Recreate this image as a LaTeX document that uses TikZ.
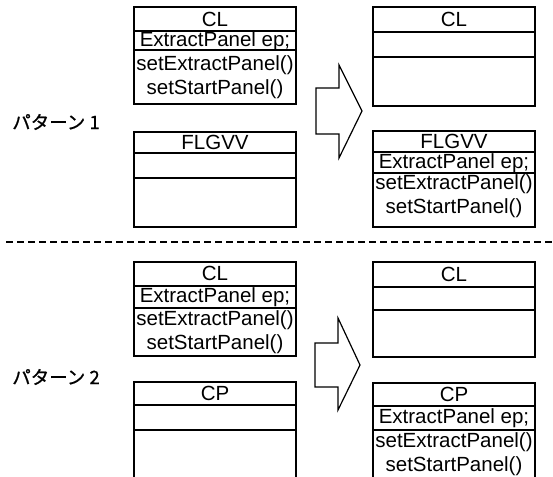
\documentclass[tikz,border=0pt]{standalone}
\usepackage{fontspec}
\setmainfont{Liberation Sans}
\newfontfamily\cjk[FakeBold=0.8]{Noto Sans CJK JP}
\begin{document}
\begin{tikzpicture}[x=1pt,y=-1pt,
    box/.style={line width=1.3pt},
    txt/.style={font=\fontsize{20.5}{24}\selectfont, inner sep=0pt},
    pat/.style={font=\cjk\fontsize{18.5}{22}\selectfont, inner sep=0pt},
    bigarrow/.style={line width=1.2pt, line join=miter}]
  \useasboundingbox (0,0) rectangle (553,476);
  \clip (0,0) rectangle (553,476);

  \def\xl{134} % left column
  \def\xr{373} % right column
  \def\w{162}  % box width
  \def\cl{215} % center left
  \def\cr{454} % center right

  % ---------------- pattern 1 ----------------
  \node[pat] (p1) at (56,122) {パターン 1};

  % left CL
  \draw[box] (\xl,7) rectangle (\xl+\w,104);
  \draw[box] (\xl,31) -- (\xl+\w,31);
  \draw[box] (\xl,50) -- (\xl+\w,50);
  \node[txt] (aCL) at (\cl,19) {CL};
  \node[txt] (aCLep) at (\cl,41) {ExtractPanel ep;};
  \node[txt] (aCLm1) at (\cl,65) {setExtractPanel()};
  \node[txt] (aCLm2) at (\cl,89) {setStartPanel()};

  % left FLGVV
  \draw[box] (\xl,132) rectangle (\xl+\w,227);
  \draw[box] (\xl,153) -- (\xl+\w,153);
  \draw[box] (\xl,178) -- (\xl+\w,178);
  \node[txt] (aFL) at (\cl,142) {FLGVV};

  % arrow
  \draw[bigarrow] (316,88) -- (339,88) -- (339,65) -- (362,111)
    -- (339,158) -- (339,134) -- (316,134) -- cycle;

  % right CL
  \draw[box] (\xr,7) rectangle (\xr+\w,106);
  \draw[box] (\xr,32) -- (\xr+\w,32);
  \draw[box] (\xr,57) -- (\xr+\w,57);
  \node[txt] (bCL) at (\cr,19) {CL};

  % right FLGVV
  \draw[box] (\xr,131) rectangle (\xr+\w,227);
  \draw[box] (\xr,152) -- (\xr+\w,152);
  \draw[box] (\xr,173) -- (\xr+\w,173);
  \node[txt] (bFL) at (\cr,141) {FLGVV};
  \node[txt] (bFLep) at (\cr,163) {ExtractPanel ep;};
  \node[txt] (bFLm1) at (\cr,184) {setExtractPanel()};
  \node[txt] (bFLm2) at (\cr,208) {setStartPanel()};

  % separator
  \draw[line width=2.8pt, dash pattern=on 7pt off 4pt] (6,242) -- (553,242);

  % ---------------- pattern 2 ----------------
  \node[pat] (p2) at (56,377) {パターン 2};

  % left CL
  \draw[box] (\xl,262) rectangle (\xl+\w,356);
  \draw[box] (\xl,286) -- (\xl+\w,286);
  \draw[box] (\xl,308) -- (\xl+\w,308);
  \node[txt] (cCL) at (\cl,273) {CL};
  \node[txt] (cCLep) at (\cl,297) {ExtractPanel ep;};
  \node[txt] (cCLm1) at (\cl,320) {setExtractPanel()};
  \node[txt] (cCLm2) at (\cl,344) {setStartPanel()};

  % left CP
  \draw[box] (\xl,500) -- (\xl,382) -- (\xl+\w,382) -- (\xl+\w,500);
  \draw[box] (\xl,405) -- (\xl+\w,405);
  \draw[box] (\xl,430) -- (\xl+\w,430);
  \node[txt] (cCP) at (\cl,393) {CP};

  % arrow
  \draw[bigarrow] (315,343) -- (338,343) -- (338,318) -- (360,365)
    -- (338,410) -- (338,387) -- (315,387) -- cycle;

  % right CL
  \draw[box] (\xr,262) rectangle (\xr+\w,357);
  \draw[box] (\xr,287) -- (\xr+\w,287);
  \draw[box] (\xr,310) -- (\xr+\w,310);
  \node[txt] (dCL) at (\cr,274) {CL};

  % right CP
  \draw[box] (\xr,500) -- (\xr,383) -- (\xr+\w,383) -- (\xr+\w,500);
  \draw[box] (\xr,406) -- (\xr+\w,406);
  \draw[box] (\xr,430) -- (\xr+\w,430);
  \node[txt] (dCP) at (\cr,394) {CP};
  \node[txt] (dCPep) at (\cr,418) {ExtractPanel ep;};
  \node[txt] (dCPm1) at (\cr,442) {setExtractPanel()};
  \node[txt] (dCPm2) at (\cr,466) {setStartPanel()};
\end{tikzpicture}
\end{document}
